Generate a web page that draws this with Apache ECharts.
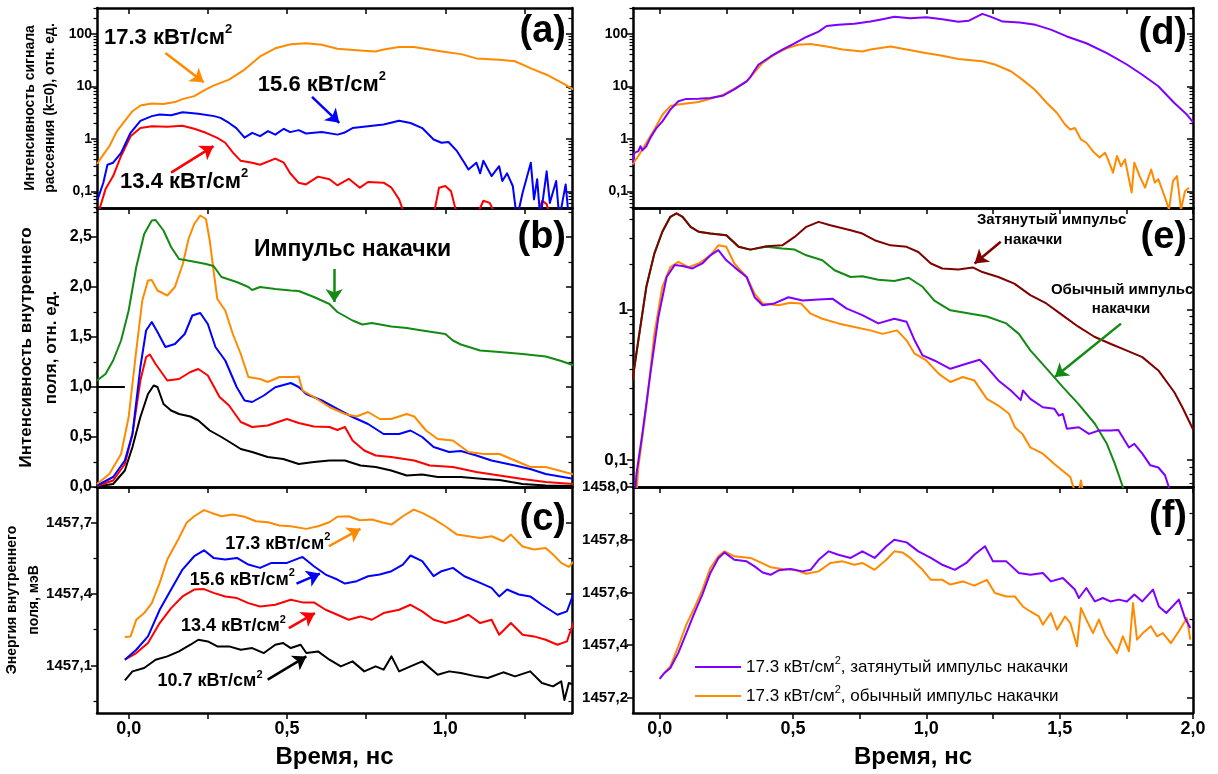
<!DOCTYPE html>
<html><head><meta charset="utf-8">
<script src="https://cdn.jsdelivr.net/npm/echarts@6/dist/echarts.min.js"></script>
<style>html,body{margin:0;padding:0;background:#fff}#c{width:1218px;height:774px}</style>
</head><body><div id="c"></div>
<script>
// ---------- tick / label values ----------
const X_TICKS_L = [0, 0.25, 0.5, 0.75, 1.0, 1.25];
const X_LABELS_L = [0, 0.5, 1.0];
const X_TICKS_R = [0, 0.25, 0.5, 0.75, 1.0, 1.25, 1.5, 1.75, 2.0];
const X_LABELS_R = [0, 0.5, 1.0, 1.5, 2.0];
const Y_A_LABELS = [0.1, 1, 10, 100];
const Y_A_MINOR = [0.05,0.06,0.07,0.08,0.09,0.2,0.3,0.4,0.5,0.6,0.7,0.8,0.9,2,3,4,5,6,7,8,9,20,30,40,50,60,70,80,90,200,300];
const Y_B_LABELS = [0, 0.5, 1.0, 1.5, 2.0, 2.5];
const Y_B_MINOR = [0.25, 0.75, 1.25, 1.75, 2.25, 2.75];
const Y_C_LABELS = [1457.1, 1457.4, 1457.7];
const Y_C_MINOR = [1456.95, 1457.25, 1457.55, 1457.85];
const Y_E_LABELS = [0.1, 1];
const Y_E_MINOR = [0.07,0.08,0.09,0.2,0.3,0.4,0.5,0.6,0.7,0.8,0.9,2,3,4];
const Y_F_LABELS = [1457.2, 1457.4, 1457.6, 1457.8, 1458.0];
const Y_F_MINOR = [1457.3, 1457.5, 1457.7, 1457.9];

// ---------- (a) scattering signal, log ----------
const A_17 = [[-0.1,0.33],[-0.08,0.5],[-0.061,0.72],[-0.037,1.4],[-0.012,2.2],[0.012,3.35],[0.037,4.3],[0.073,4.7],[0.11,4.6],[0.146,5.0],[0.17,5.7],[0.207,6.5],[0.244,8.7],[0.268,10.3],[0.317,13.4],[0.366,20.8],[0.415,37],[0.463,53],[0.512,63],[0.561,66],[0.61,62],[0.659,52],[0.73,48],[0.78,46],[0.805,50],[0.854,56],[0.90,56],[0.95,50],[1.0,45],[1.05,41],[1.098,34],[1.17,32],[1.22,30],[1.27,22],[1.32,16.6],[1.37,11.5],[1.406,8.6]];
const A_156 = [[-0.098,0.07],[-0.08,0.145],[-0.067,0.32],[-0.049,0.35],[-0.024,0.54],[0.006,1.3],[0.037,2.2],[0.073,2.7],[0.098,2.9],[0.134,2.8],[0.17,3.2],[0.22,3.0],[0.27,2.7],[0.29,2.5],[0.317,2.0],[0.34,1.6],[0.366,1.05],[0.39,1.3],[0.415,1.12],[0.44,1.4],[0.463,1.2],[0.49,1.55],[0.51,1.34],[0.537,1.46],[0.56,1.26],[0.61,1.34],[0.66,1.2],[0.68,1.3],[0.707,1.6],[0.756,1.74],[0.805,1.87],[0.854,2.2],[0.89,2.0],[0.927,1.6],[0.963,0.97],[0.988,0.84],[1.01,0.87],[1.037,0.58],[1.06,0.35],[1.073,0.26],[1.098,0.35],[1.11,0.22],[1.12,0.38],[1.146,0.195],[1.17,0.30],[1.18,0.157],[1.195,0.22],[1.213,0.126],[1.226,0.03],[1.244,0.094],[1.27,0.35],[1.28,0.07],[1.29,0.17],[1.30,0.03],[1.32,0.24],[1.33,0.06],[1.35,0.157],[1.36,0.03],[1.38,0.135],[1.39,0.03]];
const A_134 = [[-0.098,0.035],[-0.073,0.11],[-0.049,0.195],[-0.024,0.47],[0.006,1.12],[0.037,1.6],[0.073,1.74],[0.122,1.7],[0.17,1.77],[0.207,1.55],[0.244,1.3],[0.28,1.04],[0.305,0.84],[0.33,0.54],[0.354,0.38],[0.39,0.35],[0.415,0.32],[0.463,0.42],[0.49,0.35],[0.51,0.22],[0.537,0.145],[0.56,0.135],[0.598,0.19],[0.634,0.17],[0.659,0.13],[0.695,0.173],[0.73,0.117],[0.756,0.15],[0.805,0.146],[0.83,0.117],[0.854,0.07],[0.872,0.035],[0.963,0.035],[0.98,0.117],[1.0,0.126],[1.018,0.10],[1.037,0.035],[1.10,0.035],[1.12,0.066],[1.14,0.06],[1.16,0.035],[1.29,0.035],[1.306,0.066],[1.32,0.057],[1.33,0.035]];

// ---------- (b) internal field intensity ----------
const B_PUMP = [[-0.1,1.065],[-0.073,1.13],[-0.049,1.265],[-0.024,1.465],[0,1.765],[0.024,2.2],[0.049,2.53],[0.073,2.665],[0.085,2.67],[0.11,2.565],[0.134,2.4],[0.159,2.28],[0.195,2.26],[0.244,2.23],[0.268,2.21],[0.293,2.1],[0.341,2.05],[0.378,2.0],[0.39,1.97],[0.415,2.0],[0.463,1.98],[0.512,1.965],[0.537,1.96],[0.585,1.9],[0.634,1.83],[0.659,1.75],[0.707,1.665],[0.738,1.625],[0.768,1.64],[0.829,1.605],[0.878,1.59],[0.927,1.565],[1.0,1.53],[1.024,1.465],[1.049,1.425],[1.11,1.365],[1.171,1.35],[1.244,1.33],[1.317,1.305],[1.366,1.26],[1.406,1.215]];
const B_17 = [[-0.1,0.03],[-0.061,0.13],[-0.024,0.33],[0,0.70],[0.024,1.365],[0.043,1.865],[0.061,2.065],[0.073,2.07],[0.091,1.965],[0.122,1.915],[0.146,2.0],[0.171,2.23],[0.189,2.48],[0.207,2.63],[0.226,2.715],[0.244,2.68],[0.256,2.465],[0.268,2.165],[0.28,1.88],[0.305,1.765],[0.329,1.53],[0.354,1.33],[0.378,1.1],[0.415,1.08],[0.439,1.05],[0.476,1.1],[0.524,1.1],[0.537,1.105],[0.549,0.965],[0.585,0.9],[0.634,0.8],[0.683,0.73],[0.72,0.705],[0.756,0.75],[0.793,0.68],[0.829,0.68],[0.878,0.73],[0.902,0.705],[0.939,0.565],[0.976,0.48],[1.024,0.465],[1.073,0.35],[1.122,0.33],[1.171,0.33],[1.22,0.265],[1.268,0.2],[1.317,0.2],[1.406,0.125]];
const B_156 = [[-0.1,0.015],[-0.049,0.1],[-0.012,0.265],[0.012,0.53],[0.037,1.2],[0.055,1.565],[0.073,1.65],[0.091,1.55],[0.116,1.4],[0.146,1.43],[0.177,1.53],[0.201,1.715],[0.226,1.74],[0.25,1.63],[0.274,1.4],[0.305,1.265],[0.341,1.0],[0.366,0.865],[0.39,0.85],[0.427,0.915],[0.463,0.998],[0.512,1.04],[0.537,1.0],[0.561,0.93],[0.61,0.865],[0.659,0.78],[0.707,0.7],[0.756,0.63],[0.805,0.53],[0.854,0.53],[0.89,0.565],[0.927,0.5],[0.963,0.4],[1.012,0.35],[1.049,0.36],[1.098,0.315],[1.146,0.265],[1.22,0.215],[1.268,0.18],[1.317,0.13],[1.406,0.08]];
const B_134 = [[-0.1,0.01],[-0.049,0.065],[-0.012,0.23],[0.012,0.53],[0.037,1.065],[0.055,1.3],[0.067,1.325],[0.085,1.23],[0.122,1.065],[0.159,1.08],[0.195,1.15],[0.22,1.18],[0.25,1.115],[0.287,0.9],[0.317,0.815],[0.354,0.65],[0.39,0.6],[0.439,0.615],[0.5,0.68],[0.537,0.64],[0.585,0.605],[0.634,0.6],[0.659,0.57],[0.683,0.6],[0.707,0.465],[0.744,0.365],[0.78,0.315],[0.829,0.3],[0.902,0.265],[0.951,0.215],[1.024,0.2],[1.098,0.15],[1.171,0.115],[1.244,0.08],[1.317,0.05],[1.406,0.03]];
const B_107 = [[-0.1,0.005],[-0.049,0.03],[-0.012,0.165],[0.012,0.4],[0.037,0.7],[0.061,0.93],[0.079,1.015],[0.091,1.0],[0.11,0.83],[0.134,0.765],[0.159,0.73],[0.195,0.705],[0.22,0.665],[0.256,0.565],[0.293,0.5],[0.329,0.43],[0.354,0.38],[0.39,0.35],[0.439,0.3],[0.488,0.28],[0.537,0.23],[0.585,0.25],[0.634,0.265],[0.683,0.265],[0.732,0.215],[0.78,0.2],[0.829,0.165],[0.878,0.115],[0.927,0.125],[0.976,0.1],[1.049,0.1],[1.122,0.08],[1.171,0.07],[1.244,0.03],[1.317,0.015],[1.406,0.01]];
const B_REF = [[-0.1,1.0],[-0.012,1.0]];

// ---------- (c) internal field energy ----------
const C_17 = [[-0.012,1457.219],[0.006,1457.222],[0.024,1457.292],[0.049,1457.32],[0.073,1457.362],[0.098,1457.447],[0.122,1457.545],[0.159,1457.636],[0.183,1457.70],[0.207,1457.727],[0.238,1457.753],[0.262,1457.741],[0.293,1457.727],[0.329,1457.734],[0.366,1457.725],[0.402,1457.706],[0.44,1457.702],[0.476,1457.688],[0.512,1457.685],[0.561,1457.674],[0.598,1457.685],[0.634,1457.702],[0.659,1457.725],[0.695,1457.727],[0.73,1457.71],[0.768,1457.713],[0.805,1457.70],[0.83,1457.692],[0.866,1457.727],[0.90,1457.755],[0.927,1457.741],[0.963,1457.716],[1.0,1457.685],[1.037,1457.65],[1.073,1457.643],[1.11,1457.636],[1.146,1457.643],[1.183,1457.622],[1.207,1457.65],[1.244,1457.60],[1.28,1457.587],[1.317,1457.594],[1.34,1457.566],[1.366,1457.531],[1.39,1457.514],[1.406,1457.538]];
const C_156 = [[-0.012,1457.124],[0.024,1457.166],[0.061,1457.222],[0.098,1457.334],[0.134,1457.419],[0.17,1457.503],[0.207,1457.559],[0.238,1457.584],[0.268,1457.552],[0.305,1457.545],[0.342,1457.552],[0.378,1457.524],[0.415,1457.51],[0.451,1457.531],[0.50,1457.531],[0.549,1457.556],[0.585,1457.517],[0.622,1457.482],[0.659,1457.461],[0.683,1457.444],[0.72,1457.454],[0.756,1457.475],[0.793,1457.482],[0.83,1457.496],[0.866,1457.524],[0.89,1457.562],[0.927,1457.538],[0.963,1457.475],[0.988,1457.496],[1.024,1457.51],[1.06,1457.475],[1.11,1457.447],[1.146,1457.426],[1.17,1457.39],[1.195,1457.419],[1.232,1457.398],[1.268,1457.39],[1.305,1457.355],[1.354,1457.313],[1.384,1457.327],[1.406,1457.405]];
const C_134 = [[-0.012,1457.124],[0.024,1457.152],[0.061,1457.194],[0.098,1457.278],[0.134,1457.341],[0.17,1457.39],[0.207,1457.419],[0.238,1457.421],[0.268,1457.405],[0.305,1457.39],[0.342,1457.383],[0.378,1457.362],[0.415,1457.348],[0.463,1457.355],[0.512,1457.376],[0.549,1457.365],[0.585,1457.365],[0.622,1457.334],[0.659,1457.313],[0.695,1457.292],[0.732,1457.306],[0.768,1457.292],[0.805,1457.32],[0.854,1457.334],[0.89,1457.355],[0.927,1457.327],[0.963,1457.292],[1.0,1457.278],[1.037,1457.292],[1.073,1457.313],[1.11,1457.278],[1.146,1457.292],[1.17,1457.229],[1.207,1457.278],[1.244,1457.229],[1.28,1457.222],[1.317,1457.208],[1.354,1457.187],[1.384,1457.201],[1.406,1457.285]];
const C_107 = [[-0.012,1457.037],[0.012,1457.075],[0.049,1457.089],[0.085,1457.124],[0.122,1457.138],[0.159,1457.159],[0.195,1457.187],[0.22,1457.208],[0.25,1457.201],[0.28,1457.18],[0.317,1457.18],[0.354,1457.166],[0.39,1457.173],[0.427,1457.152],[0.463,1457.187],[0.488,1457.194],[0.512,1457.173],[0.543,1457.187],[0.561,1457.152],[0.598,1457.159],[0.634,1457.124],[0.67,1457.096],[0.707,1457.117],[0.744,1457.075],[0.78,1457.096],[0.805,1457.082],[0.83,1457.138],[0.854,1457.075],[0.89,1457.096],[0.927,1457.117],[0.976,1457.061],[1.012,1457.075],[1.049,1457.068],[1.098,1457.054],[1.134,1457.047],[1.183,1457.071],[1.22,1457.054],[1.268,1457.075],[1.305,1457.026],[1.34,1457.012],[1.366,1457.033],[1.376,1456.955],[1.39,1457.026],[1.406,1457.019]];

// ---------- (d) scattering signal, 17.3 kW/cm2, log ----------
const D_LONG = [[-0.102,0.35],[-0.095,0.54],[-0.08,0.58],[-0.072,0.72],[-0.065,0.6],[-0.05,0.72],[-0.035,1.04],[-0.012,1.6],[0.011,2.17],[0.04,3.6],[0.07,5.2],[0.1,5.75],[0.146,5.8],[0.19,6.0],[0.236,6.6],[0.28,8.7],[0.326,12.4],[0.34,15],[0.37,25.7],[0.416,37],[0.46,50],[0.506,66],[0.55,87],[0.596,110],[0.626,141],[0.67,148],[0.73,155],[0.79,171],[0.836,190],[0.88,212],[0.94,198],[1.0,207],[1.06,190],[1.12,169],[1.16,178],[1.21,240],[1.24,212],[1.287,171],[1.35,164],[1.41,148],[1.467,120],[1.527,89],[1.6,66],[1.677,43],[1.752,26],[1.81,16.6],[1.87,10],[1.93,4.8],[1.977,2.9],[2.0,2.07]];
const D_NORM = [[-0.102,0.325],[-0.08,0.47],[-0.05,0.84],[-0.02,1.5],[0.011,2.9],[0.04,4.2],[0.07,4.5],[0.1,4.7],[0.146,5.0],[0.19,5.8],[0.236,6.8],[0.28,9.0],[0.326,12.4],[0.34,15],[0.386,28],[0.43,40],[0.476,53],[0.52,62],[0.566,64],[0.626,57],[0.686,50],[0.76,46],[0.79,50],[0.866,57],[0.926,50],[0.986,44],[1.06,38],[1.12,33],[1.21,30],[1.257,26],[1.317,19.3],[1.36,13.4],[1.407,8.6],[1.452,4.8],[1.49,3.1],[1.52,1.87],[1.54,1.5],[1.557,1.6],[1.58,0.97],[1.6,0.84],[1.63,0.54],[1.65,0.44],[1.67,0.54],[1.68,0.42],[1.7,0.226],[1.715,0.47],[1.73,0.30],[1.745,0.405],[1.77,0.095],[1.78,0.35],[1.8,0.195],[1.82,0.117],[1.843,0.26],[1.857,0.146],[1.87,0.17],[1.895,0.076],[1.91,0.045],[1.925,0.157],[1.94,0.195],[1.955,0.045],[1.97,0.1],[1.985,0.117]];

// ---------- (e) internal field intensity, log ----------
const E_PUMP_LONG = [[-0.102,0.338],[-0.08,0.625],[-0.05,1.42],[-0.02,2.36],[0.01,3.3],[0.04,4.15],[0.063,4.37],[0.086,4.15],[0.116,3.56],[0.146,3.3],[0.19,3.21],[0.25,3.13],[0.296,2.62],[0.34,2.51],[0.4,2.64],[0.46,2.68],[0.506,3.05],[0.55,3.56],[0.596,3.84],[0.64,3.65],[0.716,3.38],[0.76,3.21],[0.806,2.9],[0.866,2.68],[0.926,2.62],[0.97,2.42],[1.017,2.03],[1.06,1.88],[1.12,1.85],[1.174,1.91],[1.21,1.78],[1.27,1.65],[1.33,1.49],[1.39,1.25],[1.45,1.1],[1.51,0.92],[1.57,0.77],[1.63,0.66],[1.69,0.593],[1.75,0.536],[1.81,0.483],[1.87,0.394],[1.93,0.282],[1.96,0.224],[1.99,0.174],[2.0,0.16]];
const E_PUMP_NORM = [[-0.102,0.338],[-0.08,0.625],[-0.05,1.42],[-0.02,2.36],[0.01,3.3],[0.04,4.15],[0.063,4.37],[0.086,4.15],[0.116,3.56],[0.146,3.3],[0.19,3.21],[0.25,3.13],[0.296,2.62],[0.34,2.51],[0.4,2.62],[0.46,2.55],[0.506,2.51],[0.55,2.3],[0.61,2.13],[0.656,1.83],[0.716,1.65],[0.76,1.67],[0.82,1.58],[0.88,1.55],[0.934,1.63],[0.986,1.42],[1.03,1.15],[1.09,0.99],[1.167,0.94],[1.227,0.9],[1.3,0.81],[1.347,0.69],[1.39,0.536],[1.452,0.404],[1.512,0.305],[1.57,0.236],[1.632,0.174],[1.677,0.128],[1.707,0.094],[1.737,0.066],[1.75,0.055]];
const E_17_LONG = [[-0.095,0.05],[-0.087,0.081],[-0.065,0.149],[-0.035,0.374],[-0.005,0.89],[0.026,1.65],[0.056,1.98],[0.086,1.95],[0.123,1.88],[0.16,2.03],[0.19,2.3],[0.22,2.49],[0.25,2.13],[0.28,1.92],[0.326,1.65],[0.356,1.21],[0.386,1.07],[0.43,1.1],[0.483,1.21],[0.536,1.15],[0.596,1.17],[0.649,1.18],[0.70,1.02],[0.76,0.92],[0.82,0.81],[0.88,0.87],[0.926,0.83],[0.956,0.625],[0.986,0.496],[1.03,0.459],[1.09,0.404],[1.15,0.436],[1.2,0.464],[1.227,0.415],[1.27,0.338],[1.317,0.29],[1.354,0.25],[1.362,0.29],[1.39,0.255],[1.437,0.224],[1.48,0.219],[1.497,0.197],[1.512,0.202],[1.527,0.161],[1.572,0.165],[1.61,0.149],[1.647,0.157],[1.69,0.157],[1.72,0.158],[1.76,0.121],[1.78,0.128],[1.81,0.11],[1.84,0.092],[1.87,0.089],[1.895,0.079],[1.917,0.06],[1.93,0.05]];
const E_17_NORM = [[-0.09,0.05],[-0.08,0.089],[-0.05,0.224],[-0.02,0.69],[0.01,1.42],[0.04,1.92],[0.07,2.08],[0.108,1.92],[0.146,2.03],[0.19,2.3],[0.22,2.68],[0.25,2.62],[0.28,2.03],[0.326,1.65],[0.356,1.28],[0.386,1.1],[0.446,1.07],[0.49,1.11],[0.53,1.1],[0.566,0.94],[0.61,0.87],[0.67,0.81],[0.73,0.766],[0.79,0.728],[0.836,0.69],[0.89,0.728],[0.926,0.625],[0.956,0.509],[1.0,0.459],[1.047,0.374],[1.09,0.33],[1.137,0.356],[1.18,0.338],[1.227,0.255],[1.27,0.23],[1.31,0.203],[1.332,0.165],[1.36,0.149],[1.39,0.121],[1.437,0.11],[1.48,0.094],[1.51,0.085],[1.54,0.077],[1.565,0.055],[1.58,0.073],[1.595,0.05]];

// ---------- (f) internal field energy, 17.3 kW/cm2 ----------
const F_LONG = [[0,1457.272],[0.018,1457.295],[0.04,1457.314],[0.07,1457.371],[0.1,1457.446],[0.13,1457.522],[0.16,1457.592],[0.19,1457.674],[0.22,1457.73],[0.243,1457.752],[0.28,1457.724],[0.326,1457.718],[0.356,1457.699],[0.386,1457.676],[0.416,1457.667],[0.446,1457.684],[0.49,1457.689],[0.536,1457.68],[0.566,1457.686],[0.596,1457.724],[0.634,1457.756],[0.67,1457.743],[0.716,1457.731],[0.76,1457.756],[0.806,1457.731],[0.85,1457.775],[0.88,1457.80],[0.926,1457.79],[0.97,1457.756],[1.017,1457.731],[1.06,1457.705],[1.107,1457.686],[1.15,1457.712],[1.18,1457.743],[1.22,1457.775],[1.25,1457.718],[1.3,1457.718],[1.347,1457.674],[1.39,1457.667],[1.437,1457.674],[1.467,1457.642],[1.512,1457.655],[1.557,1457.611],[1.572,1457.579],[1.6,1457.617],[1.632,1457.566],[1.662,1457.579],[1.69,1457.566],[1.722,1457.573],[1.752,1457.566],[1.78,1457.592],[1.81,1457.566],[1.85,1457.611],[1.872,1457.547],[1.9,1457.522],[1.947,1457.573],[1.97,1457.503],[1.99,1457.465]];
const F_NORM = [[0.018,1457.295],[0.04,1457.32],[0.07,1457.396],[0.1,1457.478],[0.13,1457.541],[0.16,1457.61],[0.19,1457.693],[0.22,1457.737],[0.243,1457.756],[0.28,1457.737],[0.34,1457.731],[0.37,1457.718],[0.416,1457.696],[0.46,1457.689],[0.506,1457.686],[0.55,1457.671],[0.596,1457.68],[0.64,1457.712],[0.686,1457.718],[0.73,1457.705],[0.76,1457.712],[0.806,1457.686],[0.85,1457.724],[0.88,1457.756],[0.91,1457.752],[0.94,1457.731],[0.986,1457.686],[1.017,1457.648],[1.06,1457.648],[1.09,1457.63],[1.137,1457.642],[1.18,1457.626],[1.227,1457.648],[1.257,1457.598],[1.3,1457.585],[1.332,1457.585],[1.362,1457.547],[1.39,1457.528],[1.422,1457.509],[1.437,1457.478],[1.467,1457.522],[1.49,1457.459],[1.52,1457.509],[1.54,1457.484],[1.565,1457.396],[1.58,1457.541],[1.6,1457.497],[1.625,1457.446],[1.647,1457.497],[1.67,1457.44],[1.69,1457.408],[1.715,1457.37],[1.737,1457.434],[1.76,1457.377],[1.775,1457.56],[1.79,1457.421],[1.812,1457.446],[1.842,1457.472],[1.865,1457.434],[1.887,1457.446],[1.917,1457.408],[1.947,1457.453],[1.977,1457.503],[1.99,1457.421]];

// ---------- styling ----------
const FONT = '"Liberation Sans", Arial, Helvetica, sans-serif';
const NARROW = '"Liberation Sans Narrow", "Liberation Sans", Arial, sans-serif';
const ORANGE = '#FF8A00', BLUE = '#0000FF', RED = '#FF0000', BLACK = '#000000',
      GREEN = '#138A13', PURPLE = '#7F00FF', DARKRED = '#800000';

const GRIDS = [
  {left: 97, top: 8, width: 475, height: 200},
  {left: 97, top: 208, width: 475, height: 279},
  {left: 97, top: 487, width: 475, height: 226},
  {left: 633, top: 8, width: 560, height: 200},
  {left: 633, top: 208, width: 560, height: 279},
  {left: 633, top: 487, width: 560, height: 226}
];

const comma = v => (Math.round(v * 10) / 10).toFixed(1).replace('.', ',');
const logFmt = v => v < 1 ? String(v).replace('.', ',') : String(Math.round(v));

const PANELS = [
  {col: 'L', type: 'log', min: 0.048, max: 310, labels: Y_A_LABELS, minor: Y_A_MINOR, fmt: logFmt, size: 14,
   name: 'Интенсивность сигнала\nрассеяния (k=0), отн. ед.', nameSize: 14, nameLH: 20, nameGap: 37, xlab: false, topTicks: true},
  {col: 'L', type: 'value', min: 0, max: 2.79, labels: Y_B_LABELS, minor: Y_B_MINOR, fmt: comma, size: 16,
   name: 'Интенсивность внутреннего\nполя, отн. ед.', nameSize: 17, nameLH: 25, nameGap: 33, xlab: false, topTicks: false},
  {col: 'L', type: 'value', min: 1456.9, max: 1457.85, labels: Y_C_LABELS, minor: Y_C_MINOR, fmt: comma, size: 15,
   name: 'Энергия внутреннего\nполя, мэВ', nameSize: 14, nameLH: 22, nameGap: 52, xlab: true, topTicks: false},
  {col: 'R', type: 'log', min: 0.048, max: 310, labels: Y_A_LABELS, minor: Y_A_MINOR, fmt: logFmt, size: 14,
   name: '', xlab: false, topTicks: true},
  {col: 'R', type: 'log', min: 0.066, max: 4.75, labels: Y_E_LABELS, minor: Y_E_MINOR, fmt: logFmt, size: 17,
   name: '', xlab: false, topTicks: false},
  {col: 'R', type: 'value', min: 1457.143, max: 1458.0, labels: Y_F_LABELS, minor: Y_F_MINOR, fmt: comma, size: 15,
   name: '', xlab: true, topTicks: false}
];

const lineStyle = {color: '#000', width: 2.5};
const xAxis = [], yAxis = [];
PANELS.forEach((p, g) => {
  const L = p.col === 'L';
  const rng = L ? [-0.1, 1.4] : [-0.1, 2.0];
  const ticks = L ? X_TICKS_L : X_TICKS_R;
  const labs = L ? X_LABELS_L : X_LABELS_R;
  xAxis.push({
    type: 'value', gridIndex: g, position: 'bottom', min: rng[0], max: rng[1],
    axisLine: {show: true, onZero: false, lineStyle},
    axisTick: {show: true, inside: false, length: 6, customValues: ticks, lineStyle: {color: '#000', width: 1.5}},
    axisLabel: {show: p.xlab, customValues: labs, formatter: comma, fontSize: 18, fontWeight: 'bold',
                color: '#000', fontFamily: FONT, margin: 7},
    splitLine: {show: false},
    name: p.xlab ? 'Время, нс' : '', nameLocation: 'middle', nameGap: 32,
    nameTextStyle: {fontSize: 24, fontWeight: 'bold', color: '#000', fontFamily: FONT}
  });
  xAxis.push({
    type: 'value', gridIndex: g, position: 'top', min: rng[0], max: rng[1],
    axisLine: {show: true, onZero: false, lineStyle},
    axisTick: {show: p.topTicks, inside: true, length: 6, customValues: ticks, lineStyle: {color: '#000', width: 1.5}},
    axisLabel: {show: false}, splitLine: {show: false}
  });
  const base = {type: p.type, gridIndex: g, min: p.min, max: p.max, splitLine: {show: false}};
  if (p.type === 'log') base.logBase = 10;
  yAxis.push(Object.assign({}, base, {
    position: 'left',
    axisLine: {show: true, onZero: false, lineStyle},
    axisTick: {show: true, inside: false, length: 6, customValues: p.labels, lineStyle: {color: '#000', width: 1.5}},
    axisLabel: {show: true, customValues: p.labels, formatter: p.fmt, fontSize: p.size, fontWeight: 'bold',
                color: '#000', fontFamily: FONT, margin: 5},
    name: p.name, nameLocation: 'middle', nameRotate: 90, nameGap: p.nameGap || 30, nameMoveOverlap: false,
    nameTextStyle: {fontSize: p.nameSize || 14, lineHeight: p.nameLH || 18, fontWeight: 'bold', color: '#000', fontFamily: FONT, align: 'center'}
  }));
  yAxis.push(Object.assign({}, base, {
    position: 'left', axisLine: {show: false, onZero: false},
    axisTick: {show: true, inside: false, length: 3.5, customValues: p.minor, lineStyle: {color: '#000', width: 1.2}},
    axisLabel: {show: false}
  }));
  yAxis.push(Object.assign({}, base, {
    position: 'right', axisLine: {show: true, onZero: false, lineStyle},
    axisTick: {show: true, inside: true, length: 6, customValues: p.labels, lineStyle: {color: '#000', width: 1.5}},
    axisLabel: {show: false}
  }));
  yAxis.push(Object.assign({}, base, {
    position: 'right', axisLine: {show: false, onZero: false},
    axisTick: {show: true, inside: true, length: 3.5, customValues: p.minor, lineStyle: {color: '#000', width: 1.2}},
    axisLabel: {show: false}
  }));
});

function arrow(color, from, to) {
  return [{coord: from, lineStyle: {color}}, {coord: to}];
}
function mkLine(lines, color) {
  return {silent: true, symbol: ['none', 'arrow'], symbolSize: 13, label: {show: false},
          lineStyle: {color, width: 2.5, type: 'solid'}, animation: false, data: lines};
}

const ARROWS = {
  a: {o: [[0.116, 43], [0.237, 11.9]], b: [[0.579, 6.27], [0.665, 2.01]], r: [[0.134, 0.226], [0.268, 0.726]]},
  b: {g: [[0.649, 2.18], [0.649, 1.85]]},
  c: {o: [[0.632, 1457.601], [0.732, 1457.674]], b: [[0.53, 1457.444], [0.604, 1457.486]],
      r: [[0.506, 1457.257], [0.588, 1457.32]], k: [[0.439, 1457.04], [0.561, 1457.138]]},
  e: {dr: [[1.279, 2.83], [1.181, 2.03]], g: [[1.73, 0.807], [1.482, 0.356]]}
};

function S(g, data, color, extra) {
  return Object.assign({
    type: 'line', xAxisIndex: 2 * g, yAxisIndex: 4 * g, data, showSymbol: false, symbol: 'none',
    lineStyle: {color, width: 2, join: 'round'}, itemStyle: {color}, silent: true, animation: false, clip: true
  }, extra || {});
}

const series = [
  S(0, A_134, RED, {markLine: mkLine([arrow(RED, ...ARROWS.a.r)], RED)}),
  S(0, A_156, BLUE, {markLine: mkLine([arrow(BLUE, ...ARROWS.a.b)], BLUE)}),
  S(0, A_17, ORANGE, {markLine: mkLine([arrow(ORANGE, ...ARROWS.a.o)], ORANGE)}),
  S(1, B_REF, BLACK),
  S(1, B_107, BLACK),
  S(1, B_134, RED),
  S(1, B_156, BLUE),
  S(1, B_17, ORANGE),
  S(1, B_PUMP, GREEN, {markLine: mkLine([arrow(GREEN, ...ARROWS.b.g)], GREEN)}),
  S(2, C_107, BLACK, {markLine: mkLine([arrow(BLACK, ...ARROWS.c.k)], BLACK)}),
  S(2, C_134, RED, {markLine: mkLine([arrow(RED, ...ARROWS.c.r)], RED)}),
  S(2, C_156, BLUE, {markLine: mkLine([arrow(BLUE, ...ARROWS.c.b)], BLUE)}),
  S(2, C_17, ORANGE, {markLine: mkLine([arrow(ORANGE, ...ARROWS.c.o)], ORANGE)}),
  S(3, D_NORM, ORANGE),
  S(3, D_LONG, PURPLE),
  S(4, E_PUMP_NORM, GREEN, {markLine: mkLine([arrow(GREEN, ...ARROWS.e.g)], GREEN)}),
  S(4, E_PUMP_LONG, DARKRED, {markLine: mkLine([arrow(DARKRED, ...ARROWS.e.dr)], DARKRED)}),
  S(4, E_17_NORM, ORANGE),
  S(4, E_17_LONG, PURPLE),
  S(5, F_NORM, ORANGE, {name: 'fnorm'}),
  S(5, F_LONG, PURPLE, {name: 'flong'})
];

const chart = echarts.init(document.getElementById('c'), null, {renderer: 'canvas'});
chart.setOption({
  backgroundColor: '#fff',
  animation: false,
  grid: GRIDS.map(g => Object.assign({containLabel: false, outerBoundsMode: 'none'}, g)),
  xAxis, yAxis, series,
  legend: {
    orient: 'vertical', left: 690, top: 650, itemWidth: 46, itemHeight: 2, itemGap: 5,
    icon: 'rect',
    data: [{name: 'flong', icon: 'rect'}, {name: 'fnorm', icon: 'rect'}], selectedMode: false,
    formatter: n => n === 'flong' ? '17.3 кВт/см{s|2}, затянутый импульс накачки' : '17.3 кВт/см{s|2}, обычный импульс накачки',
    textStyle: {fontSize: 17, lineHeight: 24, color: '#000', fontFamily: FONT,
                rich: {s: {fontSize: 11, verticalAlign: 'top', lineHeight: 12, color: '#000', fontFamily: FONT}}}
  }
});

// ---------- annotations (text anchored in data coordinates) ----------
const TEXTS = [
  {g: 0, at: [-0.078, 85], t: '17.3 кВт/см', sup: true, size: 22, align: 'left'},
  {g: 0, at: [0.408, 10.6], t: '15.6 кВт/см', sup: true, size: 22, align: 'left'},
  {g: 0, at: [-0.027, 0.15], t: '13.4 кВт/см', sup: true, size: 22, align: 'left'},
  {g: 1, at: [0.707, 2.372], t: 'Импульс накачки', sup: false, size: 23, align: 'center'},
  {g: 2, at: [0.305, 1457.611], t: '17.3 кВт/см', sup: true, size: 18, align: 'left'},
  {g: 2, at: [0.193, 1457.461], t: '15.6 кВт/см', sup: true, size: 18, align: 'left'},
  {g: 2, at: [0.165, 1457.264], t: '13.4 кВт/см', sup: true, size: 18, align: 'left'},
  {g: 2, at: [0.091, 1457.033], t: '10.7 кВт/см', sup: true, size: 18, align: 'left'},
  {g: 4, at: [1.47, 3.94], t: 'Затянутый импульс', sup: false, size: 15, align: 'center', narrow: true},
  {g: 4, at: [1.40, 2.93], t: 'накачки', sup: false, size: 15, align: 'center', narrow: true},
  {g: 4, at: [1.734, 1.36], t: 'Обычный импульс', sup: false, size: 15, align: 'center', narrow: true},
  {g: 4, at: [1.73, 1.015], t: 'накачки', sup: false, size: 15, align: 'center', narrow: true}
];
const LETTERS = [['(a)', 0, 24], ['(b)', 1, 30], ['(c)', 2, 33], ['(d)', 3, 26], ['(e)', 4, 30], ['(f)', 5, 30]];

const graphics = [];
TEXTS.forEach(a => {
  const p = chart.convertToPixel({xAxisIndex: 2 * a.g, yAxisIndex: 4 * a.g}, a.at);
  const fam = a.narrow ? NARROW : FONT;
  const rich = {
    n: {fontSize: a.size, lineHeight: Math.round(a.size * 1.35), fontWeight: 'bold', fontFamily: fam, fill: '#000'},
    s: {fontSize: Math.round(a.size * 0.6), lineHeight: Math.round(a.size * 0.6), verticalAlign: 'top', fontWeight: 'bold', fontFamily: fam, fill: '#000'}
  };
  graphics.push({
    type: 'text', x: p[0], y: p[1], silent: true, z: 50,
    style: {text: a.sup ? '{n|' + a.t + '}{s|2}' : '{n|' + a.t + '}', rich, align: a.align, verticalAlign: 'middle', fill: '#000'}
  });
});
LETTERS.forEach(([txt, g, dy]) => {
  const G = GRIDS[g];
  graphics.push({
    type: 'text', x: G.left + G.width - 6, y: G.top + dy, silent: true, z: 50,
    style: {text: txt, fontSize: 38, fontWeight: 'bold', fontFamily: FONT, fill: '#000', align: 'right', verticalAlign: 'middle'}
  });
});
chart.setOption({graphic: graphics});
</script></body></html>
